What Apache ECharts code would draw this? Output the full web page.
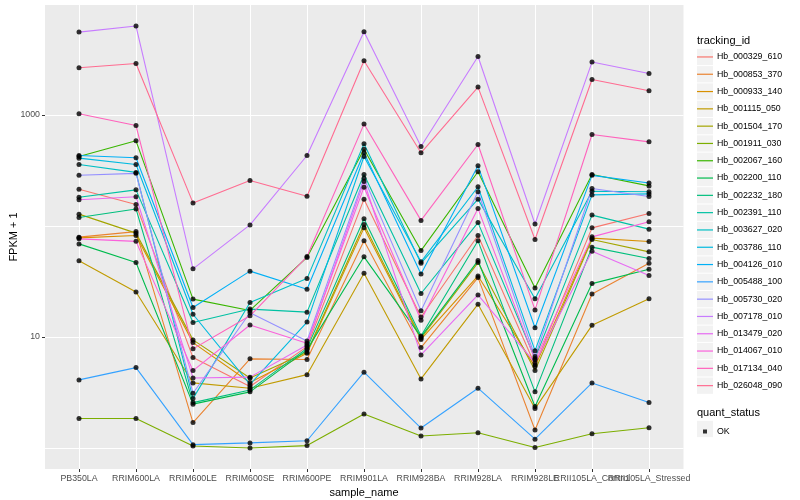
<!DOCTYPE html>
<html><head><meta charset="utf-8">
<script src="https://cdn.jsdelivr.net/npm/echarts@6/dist/echarts.min.js"></script>
<style>html,body{margin:0;padding:0;background:#fff}#c{width:800px;height:500px}</style>
</head><body><div id="c"></div>
<script>
// ---------- data ----------
const categories = ['PB350LA','RRIM600LA','RRIM600LE','RRIM600SE','RRIM600PE','RRIM901LA','RRIM928BA','RRIM928LA','RRIM928LE','RRII105LA_Control','RRII105LA_Stressed'];

const Hb_000329_610 = [214, 155.5, 6.51, 3.57, 8.18, 174, 15.1, 81.8, 5.59, 95.9, 129];
const Hb_000853_370 = [79.1, 88.8, 1.69, 6.34, 6.25, 73.3, 8.01, 34.2, 1.45, 24.3, 46.1];
const Hb_000933_140 = [78.0, 81.8, 8.88, 3.88, 7.13, 95.9, 9.49, 35.4, 5.40, 77.5, 72.2];
const Hb_001115_050 = [48.4, 25.4, 3.85, 3.45, 4.57, 37.5, 4.18, 19.7, 2.26, 12.7, 22.0];
const Hb_001504_170 = [127.5, 86.0, 9.40, 4.27, 7.28, 103, 9.73, 46.7, 4.97, 75.3, 58.3];
const Hb_001911_030 = [1.84, 1.84, 1.04, 1.00, 1.05, 2.02, 1.28, 1.37, 1.01, 1.34, 1.52];
const Hb_002067_160 = [421, 583, 21.9, 17.3, 52.0, 489, 59.9, 307, 27.6, 290, 229];
const Hb_002200_110 = [68.8, 46.7, 2.48, 3.20, 7.64, 52.6, 10.0, 48.7, 2.36, 30.2, 40.7];
const Hb_002232_180 = [118.8, 142, 2.56, 3.33, 7.88, 116, 10.2, 73.3, 3.20, 64.3, 50.8];
const Hb_002391_110 = [181, 211, 13.5, 17.8, 16.7, 290, 24.6, 107, 6.40, 125, 93.4];
const Hb_003627_020 = [357, 303, 2.78, 20.4, 33.5, 548, 46.1, 174, 22.1, 205, 203];
const Hb_003786_110 = [407, 357, 16.0, 3.73, 13.6, 421, 47.4, 225, 7.52, 190, 194];
const Hb_004126_010 = [430, 410, 18.4, 39.1, 26.9, 455, 36.9, 347, 12.1, 285, 243];
const Hb_005488_100 = [4.10, 5.29, 1.07, 1.11, 1.16, 4.81, 1.51, 3.45, 1.20, 3.85, 2.56];
const Hb_005730_020 = [286, 297, 3.11, 16.5, 9.20, 269, 17.2, 203, 6.65, 217, 184];
const Hb_007178_010 = [5560, 6300, 41.0, 102, 430, 5590, 518, 3350, 104, 2985, 2356];
const Hb_013479_020 = [172, 183, 4.27, 4.34, 8.47, 251, 6.88, 23.9, 5.83, 59.2, 35.8];
const Hb_014067_010 = [76.4, 72.5, 4.97, 12.8, 8.77, 223, 14.1, 143, 6.21, 79.6, 109];
const Hb_017134_040 = [1021, 801, 7.80, 15.5, 52.9, 825, 112, 540, 17.5, 665, 571];
const Hb_026048_090 = [2650, 2900, 161, 256, 185, 3065, 455, 1776, 75.3, 2080, 1645];

const trackingIds = ['Hb_000329_610','Hb_000853_370','Hb_000933_140','Hb_001115_050','Hb_001504_170','Hb_001911_030','Hb_002067_160','Hb_002200_110','Hb_002232_180','Hb_002391_110','Hb_003627_020','Hb_003786_110','Hb_004126_010','Hb_005488_100','Hb_005730_020','Hb_007178_010','Hb_013479_020','Hb_014067_010','Hb_017134_040','Hb_026048_090'];
const seriesValues = [Hb_000329_610,Hb_000853_370,Hb_000933_140,Hb_001115_050,Hb_001504_170,Hb_001911_030,Hb_002067_160,Hb_002200_110,Hb_002232_180,Hb_002391_110,Hb_003627_020,Hb_003786_110,Hb_004126_010,Hb_005488_100,Hb_005730_020,Hb_007178_010,Hb_013479_020,Hb_014067_010,Hb_017134_040,Hb_026048_090];
const quantStatus = ['OK'];
const yTickLabels = [10, 1000];

// ---------- styles ----------
const palette = ['#F8766D','#EA8331','#D89000','#C09B00','#A3A500','#7CAE00','#39B600','#00BB4E','#00BF7D','#00C1A3','#00BFC4','#00BAE0','#00B0F6','#35A2FF','#9590FF','#C77CFF','#E76BF3','#FA62DB','#FF62BC','#FF6C91'];
const FONT = "'Liberation Sans', Arial, Helvetica, sans-serif";
const yMin = 0.646, yMax = 9750;
const KEY_TOP = 48.8, KEY_STEP = 17.3;

const chart = echarts.init(document.getElementById('c'));

const lineSeries = trackingIds.map((id, i) => ({
  name: id, type: 'line', xAxisIndex: 1, yAxisIndex: 1,
  data: seriesValues[i], color: palette[i],
  showSymbol: false, symbol: 'none',
  lineStyle: { color: palette[i], width: 1.1 },
  emphasis: { disabled: true }, animation: false, z: 2
}));

const pointData = [];
seriesValues.forEach(arr => arr.forEach((v, j) => pointData.push([j, v])));
const pointSeries = {
  name: quantStatus[0], type: 'scatter', xAxisIndex: 1, yAxisIndex: 1,
  data: pointData, symbol: 'circle', symbolSize: 5,
  itemStyle: { color: '#000' }, emphasis: { disabled: true }, animation: false, z: 3
};

const keyBoxes = trackingIds.map((id, i) => ({
  type: 'rect', z: 0,
  shape: { x: 697, y: KEY_TOP + i * KEY_STEP, width: 16, height: 16.3 },
  style: { fill: '#F2F2F2' }
}));
keyBoxes.push({ type: 'rect', z: 0, shape: { x: 697, y: 420.8, width: 16, height: 16.3 }, style: { fill: '#F2F2F2' } });

const option = {
  animation: false,
  backgroundColor: '#fff',
  textStyle: { fontFamily: FONT },
  title: [
    { text: 'tracking_id', left: 697, top: 35.5, padding: 0, textStyle: { fontSize: 11, fontWeight: 'normal', color: '#000', fontFamily: FONT } },
    { text: 'quant_status', left: 697, top: 407, padding: 0, textStyle: { fontSize: 11, fontWeight: 'normal', color: '#000', fontFamily: FONT } }
  ],
  grid: [
    { left: 45, right: 116.5, top: 5, bottom: 31, show: true, backgroundColor: '#EBEBEB', borderWidth: 0, containLabel: false, outerBoundsMode: 'none' },
    { left: 79, right: 151, top: 5, bottom: 31, show: false, containLabel: false, outerBoundsMode: 'none' }
  ],
  xAxis: [
    { type: 'value', gridIndex: 0, min: 0, max: 1, show: false },
    {
      type: 'category', gridIndex: 1, data: categories, boundaryGap: false,
      axisLine: { show: false },
      axisTick: { show: true, length: 3, lineStyle: { color: '#333333', width: 1 } },
      axisLabel: { interval: 0, color: '#4D4D4D', fontSize: 8.8, margin: 5, fontFamily: FONT },
      splitLine: { show: true, lineStyle: { color: '#FFFFFF', width: 1 } },
      name: 'sample_name', nameLocation: 'middle', nameGap: 14,
      nameTextStyle: { fontSize: 11, color: '#000', fontFamily: FONT }
    }
  ],
  yAxis: [
    {
      type: 'log', logBase: 10, gridIndex: 0, min: yMin, max: yMax,
      axisLine: { show: false }, axisTick: { show: false }, axisLabel: { show: false },
      splitLine: { show: true, showMinLine: false, showMaxLine: false, lineStyle: { color: '#FFFFFF', width: 1 } },
      name: 'FPKM + 1', nameLocation: 'middle', nameGap: 26,
      nameTextStyle: { fontSize: 11, color: '#000', fontFamily: FONT }
    },
    {
      type: 'log', logBase: 10, gridIndex: 1, min: yMin, max: yMax, offset: 34,
      axisLine: { show: false },
      axisTick: { show: true, length: 3, customValues: yTickLabels, lineStyle: { color: '#333333', width: 1 } },
      axisLabel: {
        show: true, customValues: yTickLabels, color: '#4D4D4D', fontSize: 8.8, margin: 5, fontFamily: FONT,
        formatter: v => (yTickLabels.some(t => Math.abs(t - v) / t < 1e-6) ? String(Math.round(v)) : '')
      },
      splitLine: { show: false }
    }
  ],
  legend: [
    {
      orient: 'vertical', left: 697, top: KEY_TOP, padding: 0, itemWidth: 16, itemHeight: 16.3, itemGap: 1,
      selectedMode: false, data: trackingIds,
      icon: 'path://M0,0 L40,0 L40,3 L0,3 Z', symbolKeepAspect: true,
      itemStyle: { borderWidth: 0 },
      textStyle: { fontSize: 8.8, color: '#000', fontFamily: FONT, lineHeight: 16.3, height: 16.3, padding: [0, 0, 0, -1] }
    },
    {
      orient: 'vertical', left: 703, top: 427, padding: 0, itemWidth: 4, itemHeight: 4,
      selectedMode: false, data: quantStatus, icon: 'rect',
      itemStyle: { color: '#000', borderWidth: 0 },
      textStyle: { fontSize: 8.8, color: '#000', fontFamily: FONT, padding: [0, 0, 0, 5] }
    }
  ],
  graphic: keyBoxes,
  series: lineSeries.concat([pointSeries])
};
chart.setOption(option);
</script></body></html>
